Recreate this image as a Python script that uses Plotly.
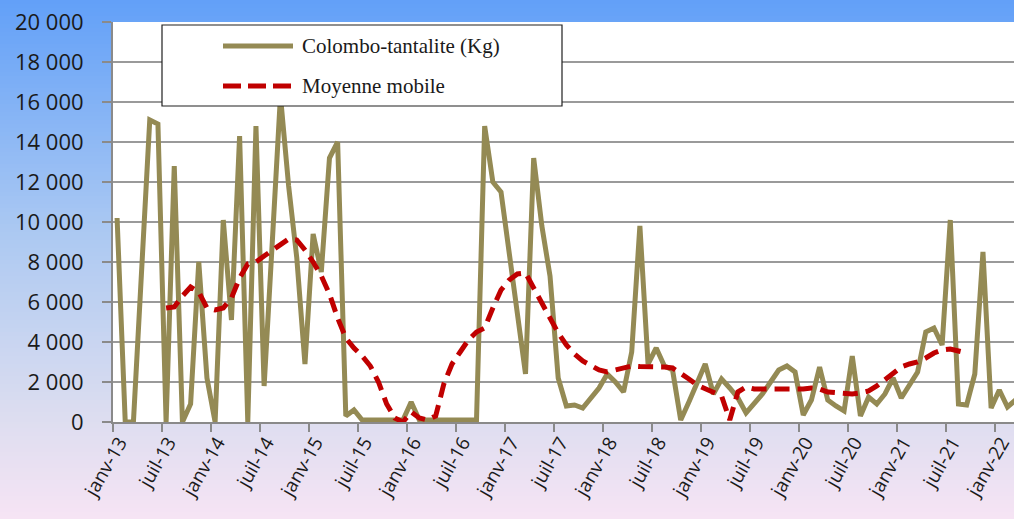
import plotly.graph_objects as go

# ---------------- data ----------------
tick_labels = ["janv-13", "juil-13", "janv-14", "juil-14", "janv-15", "juil-15",
               "janv-16", "juil-16", "janv-17", "juil-17", "janv-18", "juil-18",
               "janv-19", "juil-19", "janv-20", "juil-20", "janv-21", "juil-21",
               "janv-22"]

# monthly production, janv-13 .. mars-22 (kg)
production = [
    10200, 0, 0, 7600, 15100, 14900, 0, 12800, 0, 900, 8000, 2200,          # 2013
    0, 10100, 5100, 14300, 0, 14800, 1800, 9000, 16300, 11800, 8200, 2900,   # 2014
    9400, 7500, 13200, 14000, 300, 600, 100, 100, 100, 100, 100, 100,        # 2015
    1000, 100, 100, 100, 100, 100, 100, 100, 100, 14800, 12000, 11500,       # 2016
    8600, 5600, 2400, 13200, 9800, 7300, 2200, 800, 850, 700, 1200, 1700,    # 2017
    2400, 2000, 1500, 3500, 9800, 2900, 3700, 2800, 2600, 100, 1000, 1950,   # 2018
    2900, 1400, 2150, 1700, 1200, 450, 900, 1400, 2000, 2600, 2800, 2500,    # 2019
    350, 1100, 2750, 1100, 800, 550, 3300, 300, 1250, 900, 1400, 2200,       # 2020
    1200, 1800, 2500, 4500, 4700, 3850, 10100, 900, 850, 2400, 8500, 700,    # 2021
    1600, 750, 1100,                                                          # 2022
]

moving_avg = [
    None, None, None, None, None, None, 5700, 5750, 6300, 6750, 6500, 5700,
    5600, 5700, 6200, 7200, 7900, 8000, 8300, 8600, 8900, 9150, 9100, 8600,
    8000, 7300, 6400, 5200, 4200, 3700, 3300, 2800, 2000, 900, 200, 0,
    500, 200, 100, 300, 1900, 2900, 3500, 4100, 4500, 4700, 5700, 6600,
    7100, 7400, 7450, 6700, 5900, 5100, 4450, 3850, 3400, 3050, 2800, 2600,
    2500, 2600, 2750, 2800, 2770, 2770, 2750, 2750, 2700, 2450, 2150, 1850,
    1650, 1500, 1300, 100, 1500, 1750, 1650, 1650, 1650, 1600, 1600, 1650,
    1650, 1700, 1650, 1500, 1450, 1400, 1400, 1450, 1550, 1800, 2100, 2400,
    2750, 2900, 3000, 3200, 3450, 3600, 3650, 3550, 3450, None, None, None,
    None, None, None,
]

series_names = ["Colombo-tantalite (Kg)", "Moyenne mobile"]
y_ticks = [0, 2000, 4000, 6000, 8000, 10000, 12000, 14000, 16000, 18000, 20000]
y_tick_labels = ["0", "2 000", "4 000", "6 000", "8 000", "10 000", "12 000",
                 "14 000", "16 000", "18 000", "20 000"]

# ---------------- styling ----------------
W, H = 1014, 519
ML, MT, MB, MR = 113, 22, 97, 0
PW, PH = W - ML - MR, H - MT - MB
TAN = "#948A54"
RED = "#C00000"

months = list(range(len(production)))
label_pos = [6 * k + 0.3 for k in range(len(tick_labels))]
tick_pos = [6 * k - 0.5 for k in range(len(tick_labels))]

fig = go.Figure()
fig.add_trace(go.Scatter(x=months, y=production, mode="lines", name=series_names[0],
                         line=dict(color=TAN, width=5), showlegend=False))
fig.add_trace(go.Scatter(x=months, y=moving_avg, mode="lines", name=series_names[1],
                         line=dict(color=RED, width=5, dash="15px,8px"),
                         connectgaps=False, showlegend=False))


def px2x(px):
    return (px - ML) / PW


def py2y(py):
    return (MT + PH - py) / PH


# background gradient (outside the plot area)
stops = [(0.0, (98, 160, 248)), (0.45, (172, 201, 242)), (0.8, (220, 221, 240)), (1.0, (246, 228, 244))]


def grad(t):
    for (t0, c0), (t1, c1) in zip(stops[:-1], stops[1:]):
        if t <= t1:
            f = (t - t0) / (t1 - t0)
            return "rgb(%d,%d,%d)" % tuple(round(a + (b - a) * f) for a, b in zip(c0, c1))
    return "rgb(%d,%d,%d)" % stops[-1][1]


shapes = []
edges = sorted(set(list(range(0, H + 1, 4)) + [MT, MT + PH, H]))
for a, b in zip(edges[:-1], edges[1:]):
    col = grad(((a + b) / 2) / H)
    if b <= MT or a >= MT + PH:
        x0, x1 = px2x(0), px2x(W)
    else:
        x0, x1 = px2x(0), px2x(ML)
    shapes.append(dict(type="rect", xref="paper", yref="paper", x0=x0, x1=x1,
                       y0=py2y(b), y1=py2y(a), fillcolor=col, line=dict(width=0),
                       layer="below"))

# legend box drawn manually
shapes.append(dict(type="rect", xref="paper", yref="paper",
                   x0=px2x(162), x1=px2x(562), y0=py2y(106), y1=py2y(25),
                   fillcolor="white", line=dict(color="#202020", width=1.2), layer="above"))
shapes.append(dict(type="line", xref="paper", yref="paper",
                   x0=px2x(223), x1=px2x(293), y0=py2y(46), y1=py2y(46),
                   line=dict(color=TAN, width=5), layer="above"))
shapes.append(dict(type="line", xref="paper", yref="paper",
                   x0=px2x(223), x1=px2x(293), y0=py2y(86), y1=py2y(86),
                   line=dict(color=RED, width=5, dash="18px,7px"), layer="above"))

annotations = [
    dict(text=series_names[0], xref="paper", yref="paper", x=px2x(300), y=py2y(46),
         xanchor="left", yanchor="middle", showarrow=False,
         font=dict(family="Liberation Serif", size=21, color="#1a1a1a")),
    dict(text=series_names[1], xref="paper", yref="paper", x=px2x(300), y=py2y(86),
         xanchor="left", yanchor="middle", showarrow=False,
         font=dict(family="Liberation Serif", size=21, color="#1a1a1a")),
]

fig.update_layout(
    width=W, height=H,
    margin=dict(l=ML, r=MR, t=MT, b=MB, pad=0, autoexpand=False),
    paper_bgcolor="#c0d3ef",
    plot_bgcolor="white",
    shapes=shapes,
    annotations=annotations,
    showlegend=False,
    xaxis=dict(range=[-0.5, 109.8], tickvals=label_pos, ticktext=tick_labels,
               tickangle=-60, ticks="", showgrid=False, zeroline=False,
               ticklabeloverflow="allow", automargin=False,
               showline=True, linecolor="#8a8a8a", linewidth=2,
               tickfont=dict(family="Open Sans", size=19, color="#1a1a1a"),
               minor=dict(tickvals=tick_pos, ticks="outside", ticklen=8,
                          tickcolor="#8a8a8a", tickwidth=2, showgrid=False)),
    yaxis=dict(range=[0, 20000], tickvals=y_ticks, ticktext=y_tick_labels,
               ticks="outside", ticklen=9, tickcolor="#8a8a8a", tickwidth=2,
               ticklabelstandoff=14, automargin=False,
               showgrid=True, gridcolor="#9a9a9a", gridwidth=2, zeroline=False,
               showline=True, linecolor="#8a8a8a", linewidth=2,
               tickfont=dict(family="Open Sans", size=22, color="#1a1a1a")),
)

fig.write_html("out.html", config={"displayModeBar": False},
               post_script="document.body.style.margin='0px';")
